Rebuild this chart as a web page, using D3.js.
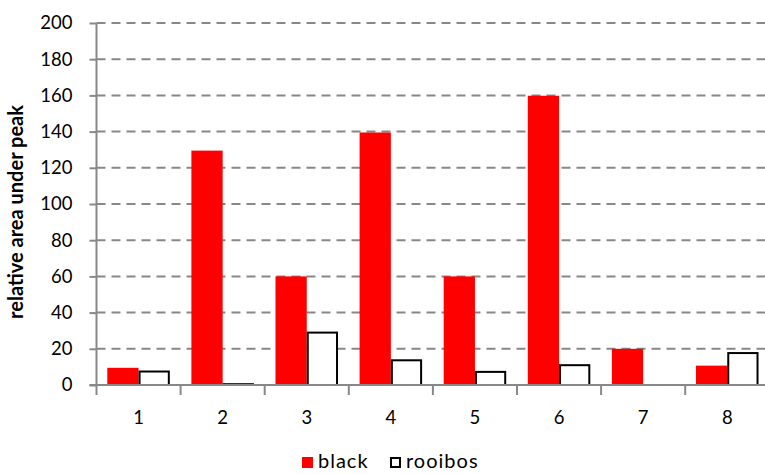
<!DOCTYPE html>
<html>
<head>
<meta charset="utf-8">
<script src="https://cdn.jsdelivr.net/npm/d3@7"></script>
<style>
  html, body { margin: 0; padding: 0; background: #fff; }
  svg { display: block; font-family: Lato, "Open Sans", sans-serif; }
</style>
</head>
<body>
<svg id="chart" width="765" height="474"></svg>
<script>
// Peak numbers and the relative area under each peak for two teas
const categories = ["1", "2", "3", "4", "5", "6", "7", "8"];
const seriesNames = ["black", "rooibos"];
const blackValues = [9.5, 129.5, 60, 139.5, 60, 159.8, 20, 10.7];
const rooibosValues = [8, 1, 29.5, 14.2, 7.8, 11.5, 0, 18.2];
const yTicks = [0, 20, 40, 60, 80, 100, 120, 140, 160, 180, 200];

const svg = d3.select("#chart");
const margin = { left: 96.5, top: 23, bottom: 385 };
const bandWidth = 84.1;
const plotRight = margin.left + bandWidth * categories.length;

const x = d3.scaleBand()
  .domain(categories)
  .range([margin.left, plotRight])
  .paddingInner(0)
  .paddingOuter(0);

const xSeries = d3.scaleBand()
  .domain(seriesNames)
  .range([0, x.bandwidth()])
  .paddingInner(0)
  .paddingOuter(0.345);

const y = d3.scaleLinear().domain([0, 200]).range([margin.bottom, margin.top]);

const gridColor = "#888888";

// Dashed horizontal gridlines
svg.append("g")
  .selectAll("line")
  .data(yTicks.filter(d => d > 0))
  .join("line")
  .attr("x1", margin.left)
  .attr("x2", 765)
  .attr("y1", d => y(d))
  .attr("y2", d => y(d))
  .attr("stroke", gridColor)
  .attr("stroke-width", 2)
  .attr("stroke-dasharray", "9,6");

// Bars
const rows = categories.map((c, i) => ({ c, black: blackValues[i], rooibos: rooibosValues[i] }));

svg.append("g")
  .selectAll("rect")
  .data(rows)
  .join("rect")
  .attr("x", d => x(d.c) + xSeries("black"))
  .attr("y", d => y(d.black))
  .attr("width", xSeries.bandwidth())
  .attr("height", d => y(0) - y(d.black))
  .attr("fill", "#ff0000");

svg.append("g")
  .selectAll("rect")
  .data(rows.filter(d => d.rooibos > 0))
  .join("rect")
  .attr("x", d => x(d.c) + xSeries("rooibos") + 1)
  .attr("y", d => y(d.rooibos) + 1)
  .attr("width", xSeries.bandwidth() - 2)
  .attr("height", d => Math.max(0, y(0) - y(d.rooibos) - 1))
  .attr("fill", "#fff")
  .attr("stroke", "#000")
  .attr("stroke-width", 2);

// Y axis
const yAxis = d3.axisLeft(y).tickValues(yTicks).tickSize(7).tickPadding(17);
const gy = svg.append("g").attr("transform", `translate(${margin.left},0)`).call(yAxis);
gy.select(".domain").attr("stroke", gridColor).attr("stroke-width", 2).attr("d", `M0,${y(200)}V${y(0)}`);
gy.selectAll(".tick line").attr("stroke", gridColor).attr("stroke-width", 2);
gy.selectAll(".tick text").attr("font-size", 18.5).attr("fill", "#000").attr("font-family", "Lato, sans-serif");

// X axis
const xAxis = d3.axisBottom(x).tickSize(0).tickPadding(26);
const gx = svg.append("g").attr("transform", `translate(0,${y(0)})`).call(xAxis);
gx.select(".domain").attr("stroke", gridColor).attr("stroke-width", 2).attr("d", `M${margin.left - 7},0H765`);
gx.selectAll(".tick text").attr("font-size", 18.5).attr("fill", "#000").attr("font-family", "Lato, sans-serif");

// Category boundary ticks
svg.append("g")
  .selectAll("line")
  .data(categories.concat(["end"]))
  .join("line")
  .attr("x1", (d, i) => margin.left + i * x.step())
  .attr("x2", (d, i) => margin.left + i * x.step())
  .attr("y1", y(0))
  .attr("y2", y(0) + 10)
  .attr("stroke", gridColor)
  .attr("stroke-width", 2);

// Y axis title
svg.append("text")
  .attr("transform", `translate(23,${(y(0) + y(200)) / 2 + 8}) rotate(-90)`)
  .attr("text-anchor", "middle")
  .attr("font-size", 20)
  .attr("font-weight", "bold")
  .attr("font-family", "Lato, sans-serif")
  .text("relative area under peak");

// Legend
const legend = svg.append("g").attr("transform", "translate(302,462)");
const legendItems = [
  { name: seriesNames[0], dx: 0, fill: "#ff0000", stroke: "none" },
  { name: seriesNames[1], dx: 88, fill: "#fff", stroke: "#000" }
];
legendItems.forEach(it => {
  legend.append("rect")
    .attr("x", it.dx + (it.stroke === "none" ? 0 : 1))
    .attr("y", -5 + (it.stroke === "none" ? 0 : 1))
    .attr("width", it.stroke === "none" ? 11 : 9)
    .attr("height", it.stroke === "none" ? 11 : 9)
    .attr("fill", it.fill)
    .attr("stroke", it.stroke)
    .attr("stroke-width", 2);
  legend.append("text")
    .attr("x", it.dx + 16)
    .attr("y", 6)
    .attr("font-size", 20)
    .attr("font-family", "Lato, sans-serif")
    .attr("letter-spacing", 1)
    .text(it.name);
});
</script>
</body>
</html>
